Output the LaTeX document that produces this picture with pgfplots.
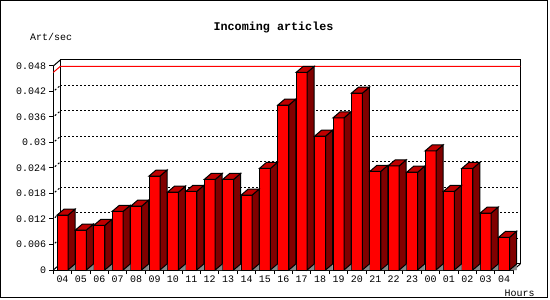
\documentclass[border=0pt]{standalone}
\usepackage{fontspec}
\setmainfont{Liberation Sans}
\setmonofont{Liberation Mono}
\usepackage{pgfplots}
\usepackage{pgfplotstable}
\pgfplotsset{compat=1.18}
\definecolor{frontred}{RGB}{255,0,0}
\definecolor{topred}{RGB}{192,0,0}
\definecolor{sidered}{RGB}{128,0,0}
\definecolor{floorgray}{RGB}{136,136,136}
\pgfdeclareplotmark{emptymark}{}
\pgfplotstableread{
x v
0 0.0129
1 0.0094
2 0.0105
3 0.0138
4 0.0150
5 0.0221
6 0.0183
7 0.0185
8 0.0213
9 0.0213
10 0.0176
11 0.0239
12 0.0388
13 0.0465
14 0.0315
15 0.0358
16 0.0416
17 0.0232
18 0.0245
19 0.0230
20 0.0280
21 0.0185
22 0.0239
23 0.0134
24 0.0077
}\data
\newcommand\tickfont{\ttfamily\fontsize{10}{12}\selectfont}
\begin{document}
\begin{tikzpicture}
\useasboundingbox (0bp,0bp) rectangle (550bp,300bp);
\draw[line width=1.33bp] (0.67bp,2.7bp) rectangle (547.3bp,299.33bp);
\node[font=\ttfamily\bfseries\fontsize{11.8}{14}\selectfont, anchor=base, inner sep=0pt] at (273.5bp,269.3bp) {Incoming articles};
\node[font=\tickfont, anchor=base west, inner sep=0pt] at (30bp,259.3bp) {Art/sec};
\node[font=\tickfont, anchor=base west, inner sep=0pt] at (504.5bp,3.3bp) {Hours};
\begin{axis}[
  at={(53.3bp,30bp)}, anchor=south west,
  x=18.4bp, y=4250bp,
  xmin=-0.5, xmax=24.5, ymin=0, ymax=0.048,
  clip=false,
  scaled y ticks=false,
  axis x line*=bottom, axis y line*=left,
  axis line style={line width=1bp,-},
  tick align=outside,
  major tick length=4bp,
  tick style={black, line width=1bp},
  tick label style={font=\tickfont},
  ytick={0,0.006,0.012,0.018,0.024,0.03,0.036,0.042,0.048},
  yticklabels={0,0.006,0.012,0.018,0.024,0.03,0.036,0.042,0.048},
  yticklabel style={inner sep=0pt, xshift=-3bp},
  xtick={-0.5,0.5,...,24.5},
  xticklabels={},
  extra x ticks={0,1,...,24},
  extra x tick labels={04,05,06,07,08,09,10,11,12,13,14,15,16,17,18,19,20,21,22,23,00,01,02,03,04},
  extra x tick style={major tick length=0pt, xticklabel style={inner sep=0pt, yshift=-5.5bp}},
  ymajorgrids,
  major grid style={black, line width=1bp, dash pattern=on 2bp off 2bp, xshift=7bp, yshift=6bp},
]
% back wall frame
\draw[line width=1bp] ([shift={(7bp,6bp)}]axis cs:-0.5,0) rectangle ([shift={(7bp,6bp)}]axis cs:24.5,0.048);
\draw[line width=1bp] (axis cs:-0.5,0.048) -- ([shift={(7bp,6bp)}]axis cs:-0.5,0.048);
\draw[line width=1bp] (axis cs:-0.5,0) -- ([shift={(7bp,6bp)}]axis cs:-0.5,0);
\draw[line width=1bp] (axis cs:24.5,0) -- ([shift={(7bp,6bp)}]axis cs:24.5,0);
\pgfplotsinvokeforeach{0.006,0.012,0.018,0.024,0.03,0.036,0.042}{
  \draw[line width=1bp, dash pattern=on 2bp off 2bp, dash phase=2bp] (axis cs:-0.5,#1) -- ([shift={(7bp,6bp)}]axis cs:-0.5,#1);
}
% maximum line
\draw[red, line width=1bp] (axis cs:-0.5,0.0465) -- ([shift={(7bp,6bp)}]axis cs:-0.5,0.0465) -- ([shift={(7bp,6bp)}]axis cs:24.5,0.0465);
% front faces
\addplot[ybar, bar width=11bp, fill=frontred, draw=black, line width=1bp] table[x=x,y=v]{\data};
% top and side faces
\addplot[only marks, scatter, mark=emptymark,
  visualization depends on={\thisrow{v} \as \val},
  scatter/@pre marker code/.code={%
    \pgfmathsetmacro\hb{-\val*4250}%
    \pgfmathsetmacro\hc{6-\val*4250}%
    \fill[floorgray] (5.5bp,\hb bp) -- (12.5bp,\hb bp) -- (12.5bp,\hc bp) -- cycle;
    \filldraw[fill=sidered, draw=black, line width=1bp] (5.5bp,0bp) -- (12.5bp,6bp) -- (12.5bp,\hc bp) -- (5.5bp,\hb bp) -- cycle;
    \filldraw[fill=topred, draw=black, line width=1bp] (-5.5bp,0bp) -- (5.5bp,0bp) -- (12.5bp,6bp) -- (1.5bp,6bp) -- cycle;
    \pgfscope
  },
  scatter/@post marker code/.code={\endpgfscope},
] table[x=x,y=v]{\data};
\end{axis}
\end{tikzpicture}
\end{document}
